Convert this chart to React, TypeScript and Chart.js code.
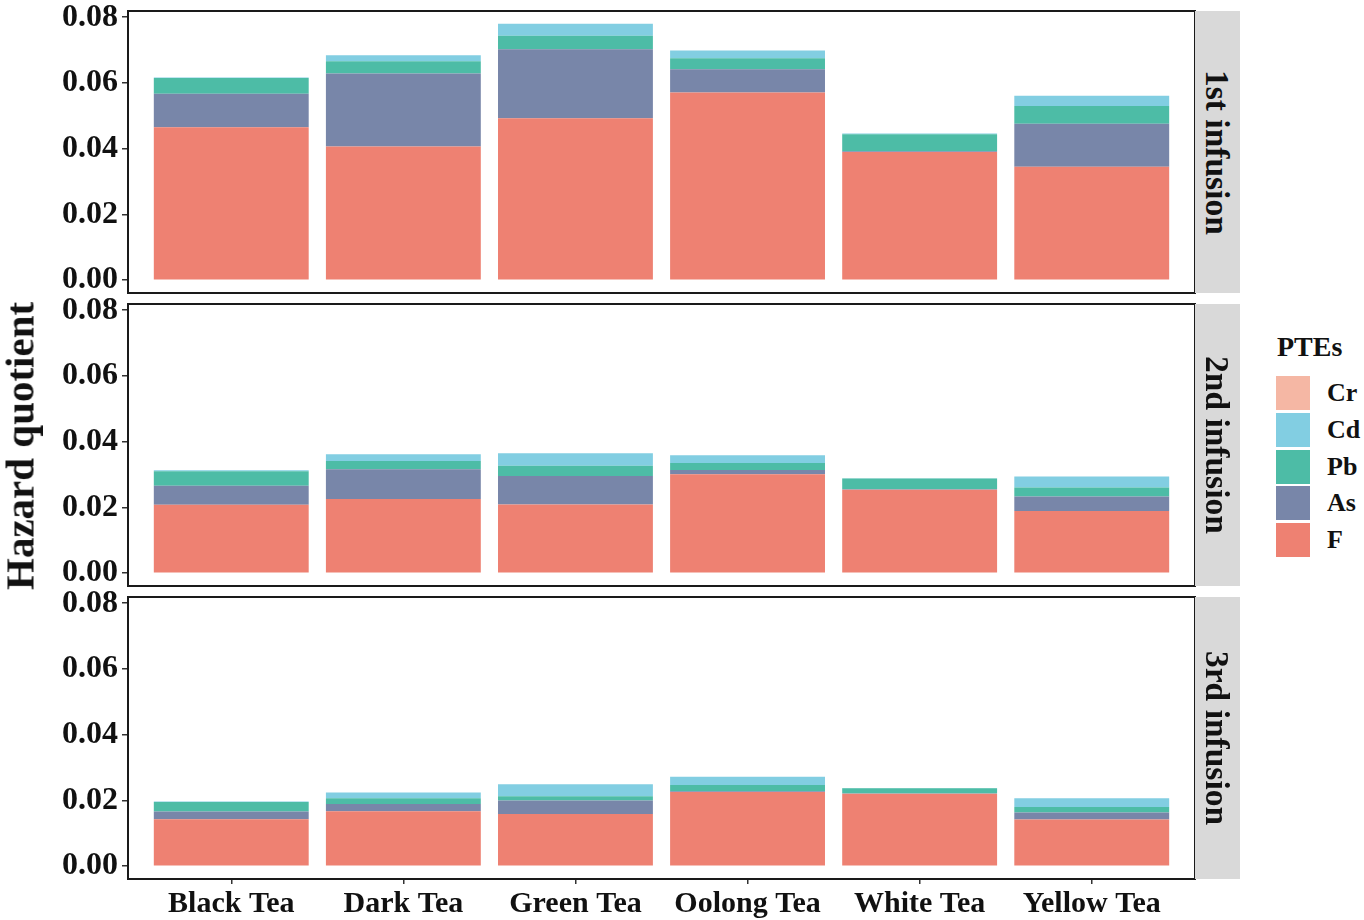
import React, { useEffect, useRef } from "react";
import { Chart, registerables } from "chart.js";
Chart.register(...registerables);

// ---------- data ----------
const categories = ["Black Tea", "Dark Tea", "Green Tea", "Oolong Tea", "White Tea", "Yellow Tea"];
const infusions = ["1st infusion", "2nd infusion", "3rd infusion"];
const stackOrder = ["F", "As", "Pb", "Cd", "Cr"]; // bottom -> top
const legendOrder = ["Cr", "Cd", "Pb", "As", "F"];
const yTicks = [0, 0.02, 0.04, 0.06, 0.08];

// 1st infusion
const f1 = [0.0465, 0.0407, 0.0493, 0.0571, 0.039, 0.0345];
const as1 = [0.0102, 0.0222, 0.021, 0.0071, 0.0002, 0.0131];
const pb1 = [0.0048, 0.0037, 0.0041, 0.0033, 0.0052, 0.0054];
const cd1 = [0.0002, 0.0018, 0.0036, 0.0024, 0.0002, 0.0031];
const cr1 = [0, 0, 0, 0, 0, 0];
// 2nd infusion
const f2 = [0.0208, 0.0226, 0.0209, 0.0301, 0.0254, 0.0189];
const as2 = [0.0058, 0.009, 0.0087, 0.0013, 0.0001, 0.0044];
const pb2 = [0.0044, 0.0025, 0.0031, 0.0021, 0.0033, 0.0028];
const cd2 = [0.0003, 0.0021, 0.0038, 0.0024, 0.0001, 0.0033];
const cr2 = [0, 0, 0, 0, 0, 0];
// 3rd infusion
const f3 = [0.0143, 0.0167, 0.0159, 0.0226, 0.022, 0.0142];
const as3 = [0.0023, 0.0022, 0.0041, 0.0002, 0.0001, 0.0021];
const pb3 = [0.0029, 0.0018, 0.0013, 0.0019, 0.0016, 0.0017];
const cd3 = [0.0002, 0.0017, 0.0036, 0.0025, 0.0001, 0.0027];
const cr3 = [0, 0, 0, 0, 0, 0];

const panels: Record<string, number[]>[] = [
  { F: f1, As: as1, Pb: pb1, Cd: cd1, Cr: cr1 },
  { F: f2, As: as2, Pb: pb2, Cd: cd2, Cr: cr2 },
  { F: f3, As: as3, Pb: pb3, Cd: cd3, Cr: cr3 },
];

// ---------- style ----------
const COLORS: Record<string, string> = {
  F: "#EE8172",
  As: "#7886A9",
  Pb: "#4DBCA6",
  Cd: "#82CEE2",
  Cr: "#F5B7A4",
};
const FONT = "'Liberation Serif', 'Times New Roman', serif";
const BOX_TOPS = [11, 303.5, 597];
const BOX_H = 282;
const LEFT = 128;
const RIGHT = 1195;
const PAD_T = 24;
const X_AXIS_H = 41;

const boxPlugin = {
  id: "panelBox",
  afterDraw(chart: any) {
    const { ctx, chartArea } = chart;
    ctx.save();
    ctx.strokeStyle = "#1a1a1a";
    ctx.lineWidth = 2;
    ctx.strokeRect(chartArea.left, chartArea.top, chartArea.right - chartArea.left, chartArea.bottom - chartArea.top);
    ctx.restore();
  },
};

function Panel({ index }: { index: number }) {
  const ref = useRef<HTMLCanvasElement | null>(null);
  const showX = index === 2;
  const width = RIGHT + 6;
  const height = PAD_T + BOX_H + (showX ? X_AXIS_H : PAD_T);
  const top = BOX_TOPS[index] - PAD_T;

  useEffect(() => {
    if (!ref.current) return;
    const vals = panels[index];
    const chart = new Chart(ref.current, {
      type: "bar",
      data: {
        datasets: stackOrder.map((k) => ({
          label: k,
          data: vals[k].map((v, i) => ({ x: i, y: v })),
          backgroundColor: COLORS[k],
          borderWidth: 0,
          categoryPercentage: 1,
          barPercentage: 0.9,
        })),
      },
      options: {
        responsive: false,
        animation: false,
        devicePixelRatio: 1,
        layout: { padding: { top: PAD_T, bottom: showX ? 0 : PAD_T, left: 0, right: width - RIGHT } },
        plugins: { legend: { display: false }, tooltip: { enabled: false } },
        scales: {
          x: {
            type: "linear",
            stacked: true,
            offset: false,
            min: -0.6,
            max: categories.length - 1 + 0.6,
            display: showX,
            afterBuildTicks: (scale: any) => {
              scale.ticks = categories.map((_, i) => ({ value: i }));
            },
            afterFit: (scale: any) => {
              if (showX) scale.height = X_AXIS_H;
            },
            grid: { offset: false, drawOnChartArea: false, drawTicks: true, tickLength: 5, color: "#333", lineWidth: 1.5 },
            border: { display: false },
            ticks: {
              autoSkip: false,
              maxRotation: 0,
              padding: 2,
              color: "#111",
              font: { family: FONT, size: 30, weight: "bold" },
              callback: (v: any) => categories[Math.round(Number(v))] ?? "",
            },
          },
          y: {
            stacked: true,
            min: -0.0039,
            max: 0.0819,
            afterBuildTicks: (scale: any) => {
              scale.ticks = yTicks.map((v) => ({ value: v }));
            },
            afterFit: (scale: any) => {
              scale.width = LEFT;
            },
            grid: { drawOnChartArea: false, drawTicks: true, tickLength: 6, color: "#333", lineWidth: 1.5 },
            border: { display: false },
            ticks: {
              padding: 4,
              color: "#111",
              font: { family: FONT, size: 32, weight: "bold" },
              callback: (v: any) => Number(v).toFixed(2),
            },
          },
        },
      },
      plugins: [boxPlugin],
    } as any);
    return () => chart.destroy();
  }, [index]);

  return (
    <canvas
      ref={ref}
      width={width}
      height={height}
      style={{ position: "absolute", left: 0, top, width, height }}
    />
  );
}

export default function App() {
  return (
    <div
      style={{
        position: "absolute",
        left: 0,
        top: 0,
        width: 1364,
        height: 920,
        background: "#fff",
        overflow: "hidden",
        fontFamily: FONT,
        color: "#111",
      }}
    >
      {infusions.map((_, i) => (
        <Panel key={i} index={i} />
      ))}
      {infusions.map((name, i) => (
        <div
          key={name}
          style={{
            position: "absolute",
            left: RIGHT,
            top: BOX_TOPS[i],
            width: 45,
            height: BOX_H,
            background: "#D9D9D9",
            display: "flex",
            alignItems: "center",
            justifyContent: "center",
          }}
        >
          <span style={{ writingMode: "vertical-rl", fontWeight: "bold", fontSize: 33.5, lineHeight: 1, whiteSpace: "nowrap" }}>
            {name}
          </span>
        </div>
      ))}
      <div
        style={{
          position: "absolute",
          left: 20,
          top: 446,
          transform: "translate(-50%, -50%) rotate(-90deg)",
          fontWeight: "bold",
          fontSize: 41,
          lineHeight: 1,
          whiteSpace: "nowrap",
        }}
      >
        Hazard quotient
      </div>
      <div
        style={{
          position: "absolute",
          left: 1277,
          top: 333,
          fontWeight: "bold",
          fontSize: 28,
          lineHeight: 1,
        }}
      >
        PTEs
      </div>
      {legendOrder.map((k, i) => (
        <div
          key={k}
          style={{
            position: "absolute",
            left: 1276,
            top: 376 + i * 36.8,
            height: 34,
            display: "flex",
            alignItems: "center",
          }}
        >
          <div style={{ width: 34, height: 34, background: COLORS[k] }} />
          <span style={{ marginLeft: 17, fontWeight: "bold", fontSize: 26, lineHeight: 1 }}>{k}</span>
        </div>
      ))}
    </div>
  );
}
